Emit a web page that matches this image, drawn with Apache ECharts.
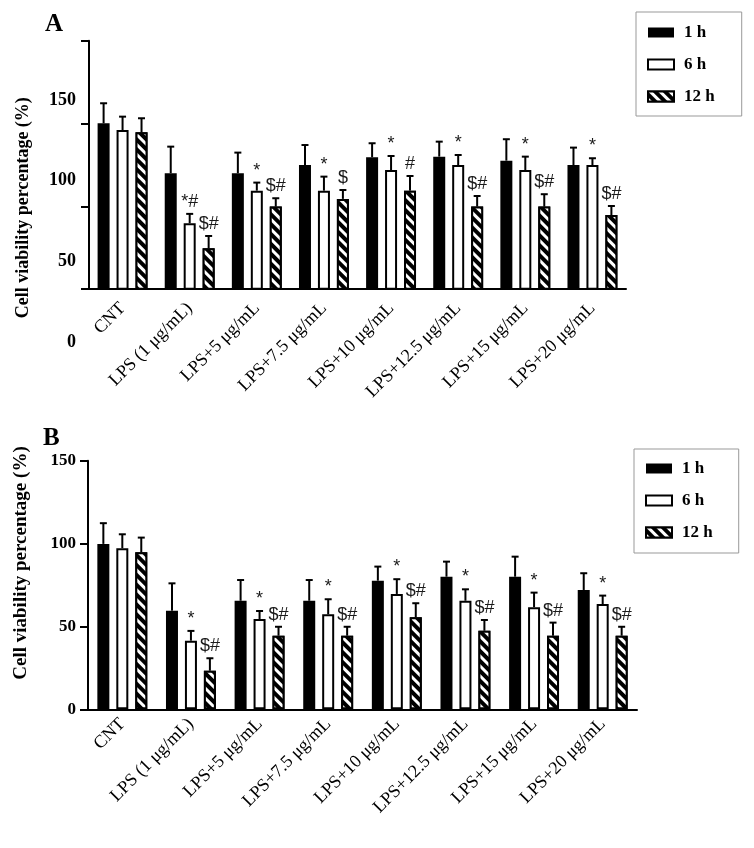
<!DOCTYPE html>
<html><head><meta charset="utf-8">
<script src="https://cdn.jsdelivr.net/npm/echarts@6/dist/echarts.min.js"></script>
<style>html,body{margin:0;padding:0;background:#fff}#c{width:754px;height:848px}</style>
</head><body><div id="c"></div>
<script>
// ---------- data ----------
const categories = ['CNT', 'LPS (1 μg/mL)', 'LPS+5 μg/mL', 'LPS+7.5 μg/mL', 'LPS+10 μg/mL', 'LPS+12.5 μg/mL', 'LPS+15 μg/mL', 'LPS+20 μg/mL'];
const seriesNames = ['1 h', '6 h', '12 h'];

// Panel A (mean, SD)
const a1h = [135.6, 104.6, 104.6, 109.7, 114.5, 114.9, 112.4, 109.7];
const a1hErr = [12.4, 16.5, 12.8, 12.4, 8.7, 9.3, 13.3, 10.8];
const a6h = [131.4, 73.6, 93.8, 93.8, 106.6, 109.7, 106.6, 109.7];
const a6hErr = [8.3, 5.8, 5.0, 8.7, 8.7, 6.2, 8.3, 4.2];
const a12h = [130.0, 58.1, 83.9, 88.7, 93.8, 83.9, 83.9, 78.7];
const a12hErr = [8.7, 7.6, 5.2, 5.5, 9.1, 6.6, 7.7, 5.6];
const aMarks1h = ['', '', '', '', '', '', '', ''];
const aMarks6h = ['', '*#', '*', '*', '*', '*', '*', '*'];
const aMarks12h = ['', '$#', '$#', '$', '#', '$#', '$#', '$#'];

// Panel B (mean, SD)
const b1h = [99.8, 59.5, 65.5, 65.5, 77.6, 80.0, 80.0, 72.0];
const b1hErr = [12.5, 16.5, 12.5, 12.5, 8.5, 9.1, 12.1, 10.1];
const b6h = [97.2, 41.4, 54.5, 57.3, 69.6, 65.5, 61.6, 63.5];
const b6hErr = [8.4, 5.9, 4.8, 9.1, 8.9, 6.9, 8.8, 5.1];
const b12h = [94.7, 23.3, 44.4, 44.4, 55.5, 47.4, 44.4, 44.4];
const b12hErr = [8.9, 7.5, 5.4, 5.4, 8.5, 6.5, 7.9, 5.4];
const bMarks1h = ['', '', '', '', '', '', '', ''];
const bMarks6h = ['', '*', '*', '*', '*', '*', '*', '*'];
const bMarks12h = ['', '$#', '$#', '$#', '$#', '$#', '$#', '$#'];

// axis ticks / labels
const aYMin = 33, aYMax = 186.8;
const aYTickValues = [33, 84, 135.6, 186.8];
const aYLabelValues = [50, 100, 150];
const aYExtraLabel = 0;
const bYMin = 0, bYMax = 150, bYInterval = 50;
const yTitle = 'Cell viability percentage (%)';

// ---------- style ----------
const SERIF = '"Liberation Serif", "Times New Roman", serif';
const SANS = '"Liberation Sans", Arial, sans-serif';
const BAR_W = 12, BAR_GAP = 0.58;
const gridA = {left: 89, top: 40.7, width: 537, height: 248};
const gridB = {left: 88, top: 460.7, width: 549, height: 248.6};

const barStyles = [
  {color: '#000', borderColor: '#000', borderWidth: 0},
  {color: '#fff', borderColor: '#000', borderWidth: 2},
  {color: '#fff', borderColor: '#000', borderWidth: 2,
   decal: {symbol: 'rect', symbolSize: 1, dashArrayX: [1, 0], dashArrayY: [3.5, 2.5], rotation: Math.PI / 4, color: '#000', backgroundColor: '#fff'}}
];

function makeBar(p, k, vals) {
  return {
    type: 'bar', name: seriesNames[k], xAxisIndex: p, yAxisIndex: p,
    data: vals, barWidth: BAR_W, barGap: (BAR_GAP * 100) + '%',
    itemStyle: barStyles[k], clip: true, z: 2,
    emphasis: {disabled: true}
  };
}
function makeErr(p, k, vals, errs, marks) {
  const off = (k - 1) * BAR_W * (1 + BAR_GAP);
  return {
    type: 'custom', name: seriesNames[k] + ' err', xAxisIndex: p, yAxisIndex: p, z: 5,
    data: vals.map((v, i) => [i, v, v + errs[i]]),
    renderItem: function (params, api) {
      const i = api.value(0), v = api.value(1), t = api.value(2);
      const b = api.coord([i, v]), tp = api.coord([i, t]);
      const x = b[0] + off;
      const ch = [
        {type: 'line', shape: {x1: x, y1: b[1], x2: x, y2: tp[1]}, style: {stroke: '#000', lineWidth: 2}},
        {type: 'line', shape: {x1: x - 3.5, y1: tp[1], x2: x + 3.5, y2: tp[1]}, style: {stroke: '#000', lineWidth: 2}}
      ];
      const m = marks[params.dataIndex];
      if (m) ch.push({type: 'text', style: {text: m, x: x, y: tp[1] - 3, align: 'center', verticalAlign: 'bottom',
        font: '18px ' + SANS, fill: '#1a1a1a'}});
      return {type: 'group', children: ch};
    }
  };
}

function xAxis(p, margin) {
  return {
    type: 'category', gridIndex: p, data: categories,
    axisLine: {onZero: false, lineStyle: {color: '#000', width: 2}},
    axisTick: {alignWithLabel: true, length: 7, lineStyle: {color: '#000', width: 2}},
    axisLabel: {interval: 0, rotate: 45, margin: margin, fontFamily: SERIF, fontSize: 18, color: '#000'},
    splitLine: {show: false}
  };
}

function legend(left, top, pad) {
  return {
    left: left, top: top,
    orient: 'vertical', data: seriesNames, itemWidth: 26, itemHeight: 10, itemGap: 15,
    padding: pad, borderColor: '#999', borderWidth: 1, icon: 'rect', selectedMode: false,
    textStyle: {fontFamily: SERIF, fontWeight: 'bold', fontSize: 17, color: '#000', padding: [0, 0, 0, 5]}
  };
}

const chart = echarts.init(document.getElementById('c'), null, {renderer: 'canvas'});
chart.setOption({
  backgroundColor: '#fff',
  animation: false,
  grid: [gridA, gridB],
  legend: [legend(636, 12, [12, 27, 11, 11]), legend(634, 449, [11, 26, 12, 11])],
  xAxis: [xAxis(0, 17), xAxis(1, 12)],
  yAxis: [
    {
      type: 'value', gridIndex: 0, min: aYMin, max: aYMax,
      axisLine: {show: true, lineStyle: {color: '#000', width: 2}},
      axisTick: {show: true, length: 8, customValues: aYTickValues, lineStyle: {color: '#000', width: 2}},
      axisLabel: {customValues: aYLabelValues, margin: 13, fontFamily: SERIF, fontWeight: 'bold', fontSize: 18, color: '#000'},
      splitLine: {show: false},
      name: yTitle, nameLocation: 'middle', nameGap: 57,
      nameTextStyle: {fontFamily: SERIF, fontWeight: 'bold', fontSize: 18, color: '#000', padding: [0, 86, 0, 0]}
    },
    {
      type: 'value', gridIndex: 1, min: bYMin, max: bYMax, interval: bYInterval,
      axisLine: {show: true, lineStyle: {color: '#000', width: 2}},
      axisTick: {show: true, length: 8, lineStyle: {color: '#000', width: 2}},
      axisLabel: {margin: 12, fontFamily: SERIF, fontWeight: 'bold', fontSize: 17, color: '#000'},
      splitLine: {show: false},
      name: yTitle, nameLocation: 'middle', nameGap: 57,
      nameTextStyle: {fontFamily: SERIF, fontWeight: 'bold', fontSize: 19, color: '#000', padding: [0, 0, 0, 44]}
    }
  ],
  series: [
    makeBar(0, 0, a1h), makeBar(0, 1, a6h), makeBar(0, 2, a12h),
    makeErr(0, 0, a1h, a1hErr, aMarks1h), makeErr(0, 1, a6h, a6hErr, aMarks6h), makeErr(0, 2, a12h, a12hErr, aMarks12h),
    makeBar(1, 0, b1h), makeBar(1, 1, b6h), makeBar(1, 2, b12h),
    makeErr(1, 0, b1h, b1hErr, bMarks1h), makeErr(1, 1, b6h, b6hErr, bMarks6h), makeErr(1, 2, b12h, b12hErr, bMarks12h)
  ]
});

// extra "0" label of panel A (placed through the axis scale) and panel letters
const zeroY = chart.convertToPixel({yAxisIndex: 0}, aYExtraLabel);
chart.setOption({
  graphic: [
    {type: 'text', left: 45, top: 12, style: {text: 'A', font: 'bold 25px ' + SERIF, fill: '#000'}},
    {type: 'text', left: 43, top: 426, style: {text: 'B', font: 'bold 25px ' + SERIF, fill: '#000'}},
    {type: 'text', x: gridA.left - 13, y: zeroY, style: {text: String(aYExtraLabel), align: 'right', verticalAlign: 'middle',
      font: 'bold 18px ' + SERIF, fill: '#000'}}
  ]
});
</script>
</body></html>
